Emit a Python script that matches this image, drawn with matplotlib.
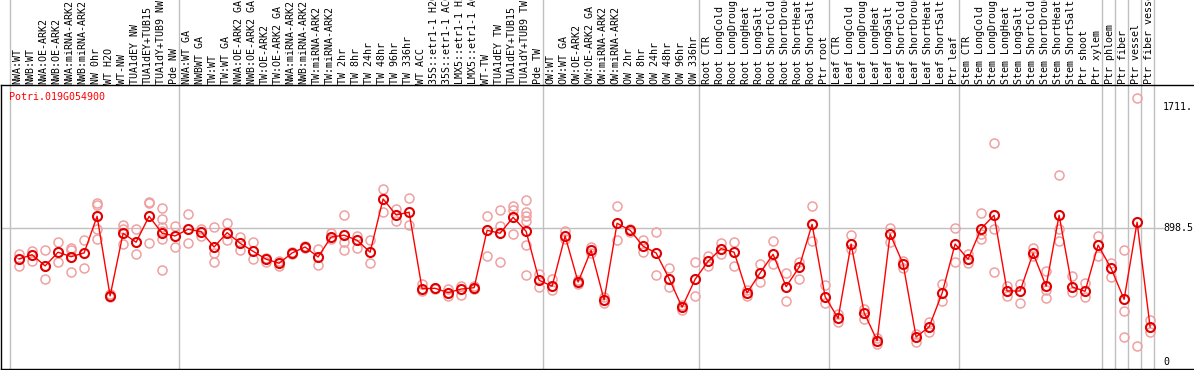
import matplotlib
matplotlib.use("Agg")
import matplotlib.pyplot as plt
from matplotlib.transforms import blended_transform_factory

gene = "Potri.019G054900"

labels = [
    "NWA:WT", "NWB:WT", "NWA:OE-ARK2", "NWB:OE-ARK2", "NWA:miRNA-ARK2", "NWB:miRNA-ARK2",
    "NW 0hr", "WT H2O", "WT-NW", "TUA1dEY NW", "TUA1dEY+TUB15", "TUA1dY+TUB9 NW", "Pde NW",
    "NWA:WT GA", "NWBWT GA", "TW:WT", "TW:WT GA", "NWA:OE-ARK2 GA", "NWB:OE-ARK2 GA",
    "TW:OE-ARK2", "TW:OE-ARK2 GA", "NWA:miRNA-ARK2", "NWB:miRNA-ARK2", "TW:miRNA-ARK2",
    "TW:miRNA-ARK2", "TW 2hr", "TW 8hr", "TW 24hr", "TW 48hr", "TW 96hr", "TW 336hr", "WT ACC",
    "35S::etr1-1 H2O", "35S::etr1-1 ACC", "LMX5::etr1-1 H2O", "LMX5::etr1-1 ACC", "WT-TW",
    "TUA1dEY TW", "TUA1dEY+TUB15", "TUA1dY+TUB9 TW", "Pde TW",
    "OW:WT", "OW:WT GA", "OW:OE-ARK2", "OW:OE-ARK2 GA", "OW:miRNA-ARK2", "OW:miRNA-ARK2",
    "OW 2hr", "OW 8hr", "OW 24hr", "OW 48hr", "OW 96hr", "OW 336hr",
    "Root CTR", "Root LongCold", "Root LongDrought", "Root LongHeat", "Root LongSalt",
    "Root ShortCold", "Root ShortDrought", "Root ShortHeat", "Root ShortSalt", "Ptr root",
    "Leaf CTR", "Leaf LongCold", "Leaf LongDrought", "Leaf LongHeat", "Leaf LongSalt",
    "Leaf ShortCold", "Leaf ShortDrought", "Leaf ShortHeat", "Leaf ShortSalt", "Ptr leaf",
    "Stem CTR", "Stem LongCold", "Stem LongDrought", "Stem LongHeat", "Stem LongSalt",
    "Stem ShortCold", "Stem ShortDrought", "Stem ShortHeat", "Stem ShortSalt", "Ptr shoot",
    "Ptr xylem", "Ptr phloem", "Ptr fiber", "Ptr vessel", "Ptr fiber vessel",
]

means = [
    691, 719, 644, 736, 706, 731, 977, 443, 863, 803, 977, 863, 845,
    890, 874, 771, 867, 796, 742, 689, 662, 731, 771, 704, 838, 850, 816, 736,
    1093, 986, 1004, 491, 494, 465, 489, 498, 883, 863, 970, 876,
    548, 508, 845, 536, 749, 416, 930, 883, 776, 731, 559, 367,
    554, 675, 760, 736, 463, 597, 722, 505, 635, 923,
    438, 293, 791, 331, 143, 858, 657, 168, 235, 461,
    791, 689, 894, 984, 476, 476, 729, 508, 984, 503, 474,
    784, 628, 420, 937, 235,
]

reps = [
    [722, 646], [746, 677], [749, 554, 644], [803, 668], [766, 751, 603], [816, 628],
    [1068, 1053, 890, 825], [456, 434], [919, 890, 791], [890, 724], [1075, 1064, 796],
    [1033, 957, 907, 880, 823, 617], [912, 773],
    [990, 796], [894, 847], [905, 733, 672], [930, 816], [840, 749], [803, 689],
    [699, 668], [677, 646], [740, 722], [778, 762], [756, 648], [863, 823],
    [984, 807, 749], [845, 762], [816, 664], [1158, 1004], [1026, 943], [1098, 919],
    [523, 476], [498, 490], [489, 443], [512, 447], [508, 489], [977, 709],
    [1019, 912, 668], [1046, 1019, 856], [1084, 1006, 979, 947, 784, 583],
    [590, 501], [557, 481], [880, 823], [550, 523], [773, 729], [438, 394],
    [1044, 816], [892, 872], [816, 738], [870, 581], [628, 501], [382, 349],
    [668, 441], [711, 644], [796, 726], [805, 642], [483, 445], [655, 534],
    [809, 655], [597, 409], [672, 554], [1044, 809],
    [514, 394], [322, 266], [850, 758], [355, 286], [159, 121], [900, 803],
    [679, 632], [186, 136], [266, 199], [523, 409],
    [896, 668], [726, 666], [997, 858, 823], [1466, 890, 603], [510, 443],
    [521, 394], [766, 713], [608, 485, 427], [1252, 890, 809], [575, 467],
    [530, 434], [845, 711], [666, 568], [749, 340, 168], [1768, 105], [282, 199],
]

group_edges = [0, 13, 41, 53, 63, 73, 84, 85, 86, 87, 88]
ytick_vals = [0, 898.5, 1711]
ytick_text = ["0", "898.5", "1711."]

W, H = 1194, 370
font = dict(family="DejaVu Sans Mono", fontsize=7.2)

fig = plt.figure(figsize=(W / 100, H / 100), dpi=100)
ax = fig.add_axes([1 / W, 1 / H, 1193 / W, 284 / H])
ax.set_xlim((1 - 10) / 13, (W - 10) / 13)
ax.set_ylim(-47, 1857)
ax.set_xticks([])
ax.set_yticks([])
for side in ["top", "bottom", "left"]:
    ax.spines[side].set_color("black")
    ax.spines[side].set_linewidth(1)
ax.spines["right"].set_visible(False)

# group separators run through the label band too
xfig = blended_transform_factory(ax.transData, fig.transFigure)
for e in group_edges:
    ax.plot([e, e], [0, 1], transform=xfig, color="#c0c0c0", lw=1, clip_on=False, zorder=1)

ax.axhline(898.5, xmin=0, xmax=(1163 - 1) / 1193, color="#c0c0c0", lw=1, zorder=1)

xs = [k + 0.7 for k in range(len(means))]
for x, r in zip(xs, reps):
    ax.plot([x] * len(r), r, "o", mfc="none", mec="#f0a0a0", ms=6.5, mew=1.1, zorder=2)
ax.plot(xs, means, "-", color="red", lw=1, zorder=3)
ax.plot(xs, means, "o", mfc="none", mec="#e00000", ms=6.5, mew=1.5, zorder=4)

for k, lab in enumerate(labels):
    ax.text(k + 0.6, (H - 84) / H, lab, transform=xfig, rotation=90,
            ha="center", va="bottom", color="black", **font)

ylab = blended_transform_factory(ax.transAxes, ax.transData)
for v, t in zip(ytick_vals, ytick_text):
    ax.text((1163 - 1) / 1193, v, t, transform=ylab, ha="left", va="center", **font)

fig.text(9 / W, 1 - 97 / H, gene, color="red", ha="left", va="center", **font)

fig.savefig("out.png", dpi=100)
